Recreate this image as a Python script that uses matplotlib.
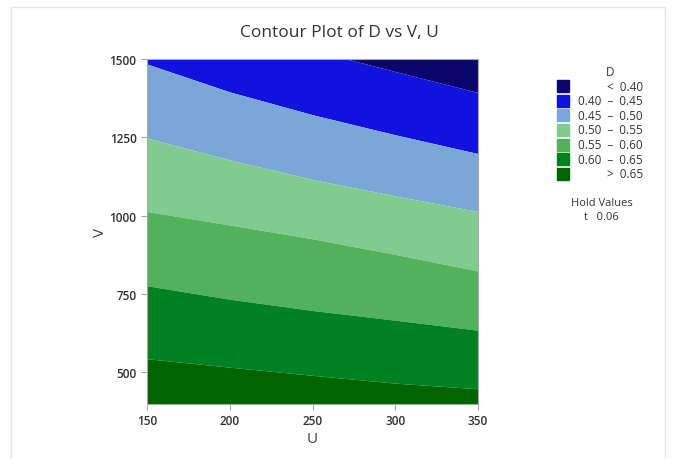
import matplotlib
matplotlib.use("Agg")
import matplotlib.pyplot as plt
from matplotlib.patches import Rectangle

plt.rcParams['font.family'] = ['Open Sans', 'DejaVu Sans']

# U positions where the contour boundaries were read
u = [150, 200, 250, 300, 350]

# V value of each contour boundary along U
v_040 = [1662, 1595, 1528, 1460, 1393]
v_045 = [1484, 1395, 1322, 1258, 1198]
v_050 = [1247, 1178, 1115, 1063, 1013]
v_055 = [1013, 970, 926, 876, 823]
v_060 = [776, 733, 697, 666, 634]
v_065 = [543, 516, 490, 465, 447]

v_lo, v_hi = 400, 1500

labels = ['<  0.40', '0.40  –  0.45', '0.45  –  0.50', '0.50  –  0.55',
          '0.55  –  0.60', '0.60  –  0.65', '>  0.65']
colors = ['#0b066e', '#1111e0', '#7ba7d8', '#80cc8e', '#53b05b', '#008222', '#006400']

W, H = 674, 460
fig = plt.figure(figsize=(W / 100, H / 100), dpi=100)

def fx(px):
    return px / W

def fy(py):
    return 1 - py / H

ax = fig.add_axes([fx(147), fy(404.5), fx(478) - fx(147), fy(60) - fy(404.5)])

bounds = [[2000] * 5, v_040, v_045, v_050, v_055, v_060, v_065, [0] * 5]
for i, c in enumerate(colors):
    ax.fill_between(u, bounds[i + 1], bounds[i], color=c, lw=0)

ax.set_xlim(150, 350)
ax.set_ylim(v_lo, v_hi)
ax.set_xticks([150, 200, 250, 300, 350])
ax.set_yticks([500, 750, 1000, 1250, 1500])
for s in ax.spines.values():
    s.set_color('#a8a8a8')
    s.set_linewidth(0.8)
ax.tick_params(colors='#a8a8a8', labelcolor='#303030', length=4, width=0.8, labelsize=8.5)
for t in ax.get_xticklabels() + ax.get_yticklabels():
    t.set_fontweight('semibold')
ax.set_xlabel('U', fontsize=11, color='#404040', labelpad=3)
ax.set_ylabel('V', fontsize=11, color='#404040', labelpad=1)

fig.text(fx(339), fy(33), 'Contour Plot of D vs V, U', ha='center', va='center',
         fontsize=12.5, color='#333333')

# legend drawn by hand
fig.text(fx(610), fy(72), 'D', ha='center', va='center', fontsize=8.5, color='#333333')
for i, (lab, c) in enumerate(zip(labels, colors)):
    yc = 87.3 + i * 14.55
    fig.add_artist(Rectangle((fx(557), fy(yc + 6)), fx(12), 12 / H, color=c,
                             transform=fig.transFigure))
    fig.text(fx(643), fy(yc), lab, ha='right', va='center', fontsize=8.5, color='#333333')
fig.text(fx(602), fy(203), 'Hold Values', ha='center', va='center', fontsize=8,
         color='#333333')
fig.text(fx(601), fy(218), 't   0.06', ha='center', va='center', fontsize=8,
         color='#333333')

# faint outer frame
fig.add_artist(Rectangle((fx(11), fy(470)), fx(654), 462 / H, fill=False,
                         ec='#e6e6e6', lw=1, transform=fig.transFigure))

fig.savefig('out.png', dpi=100)
